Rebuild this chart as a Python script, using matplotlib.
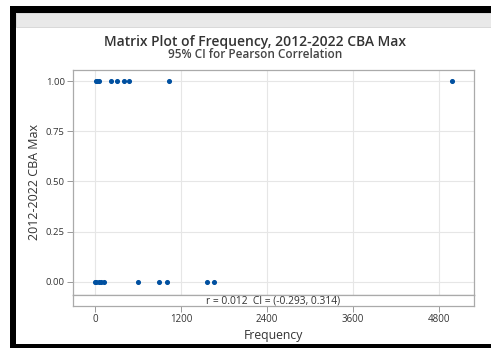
import matplotlib.pyplot as plt
from matplotlib.patches import Rectangle

plt.rcParams['font.family'] = ['Open Sans', 'DejaVu Sans']

# Frequency values of the points, split by the 0/1 outcome
freq_max1 = [10, 30, 60, 220, 310, 410, 470, 1035, 4980]
freq_max0 = [0, 20, 50, 80, 130, 605, 890, 1000, 1560, 1665]
xticks = [0, 1200, 2400, 3600, 4800]
yticks = [0.0, 0.25, 0.5, 0.75, 1.0]
r_text = 'r = 0.012  CI = (-0.293, 0.314)'

W, H = 491, 348
fig = plt.figure(figsize=(W / 100, H / 100), dpi=100)

# window frame
fig.add_artist(Rectangle((10 / W, 0), 490 / W, 342 / H, transform=fig.transFigure,
                         facecolor='black', edgecolor='none', zorder=-3))
fig.add_artist(Rectangle((16 / W, 4 / H), 490 / W, 331.3 / H, transform=fig.transFigure,
                         facecolor='white', edgecolor='none', zorder=-2))
fig.add_artist(Rectangle((16 / W, (H - 27) / H), 490 / W, 14.3 / H, transform=fig.transFigure,
                         facecolor='#e9e9e9', edgecolor='#d4d4d4', linewidth=0.6, zorder=-1))

left, right = 73 / W, 474 / W
ax = fig.add_axes([left, (H - 295) / H, right - left, 225 / H])
band = fig.add_axes([left, (H - 306) / H, right - left, 11 / H], sharex=ax)

ax.scatter(freq_max1, [1] * len(freq_max1), s=7, color='#0050a0', zorder=3)
ax.scatter(freq_max0, [0] * len(freq_max0), s=7, color='#0050a0', zorder=3)

ax.set_xlim(-307, 5288)
ax.set_ylim(-0.065, 1.055)
ax.set_yticks(yticks)
ax.set_yticklabels(['%.2f' % v for v in yticks])
ax.set_xticks(xticks)
ax.grid(True, color='#e6e6e6', linewidth=0.8)
ax.set_axisbelow(True)
ax.tick_params(axis='x', bottom=False, labelbottom=False)
ax.tick_params(axis='y', length=4, width=0.7, color='#999999', labelsize=6.8,
               labelcolor='#333333', pad=2)
for a in (ax, band):
    for s in a.spines.values():
        s.set_color('#aaaaaa')
        s.set_linewidth(0.9)
ax.set_ylabel('2012-2022 CBA Max', fontsize=9, color='#333333', labelpad=3)

band.set_ylim(0, 1)
band.set_yticks([])
band.tick_params(axis='x', length=4, width=0.7, color='#999999', labelsize=7,
                 labelcolor='#333333', pad=2)
band.text(0.5, 0.45, r_text, transform=band.transAxes, ha='center', va='center',
          fontsize=7.4, color='#333333')
band.set_xlabel('Frequency', fontsize=8.8, color='#333333', labelpad=3)

fig.text(0.52, (H - 42) / H, 'Matrix Plot of Frequency, 2012-2022 CBA Max',
         ha='center', va='center', fontsize=10, fontweight='semibold', color='#333333')
fig.text(0.52, (H - 55) / H, '95% CI for Pearson Correlation',
         ha='center', va='center', fontsize=8.5, fontweight='semibold', color='#444444')

fig.savefig('out.png', dpi=100)
